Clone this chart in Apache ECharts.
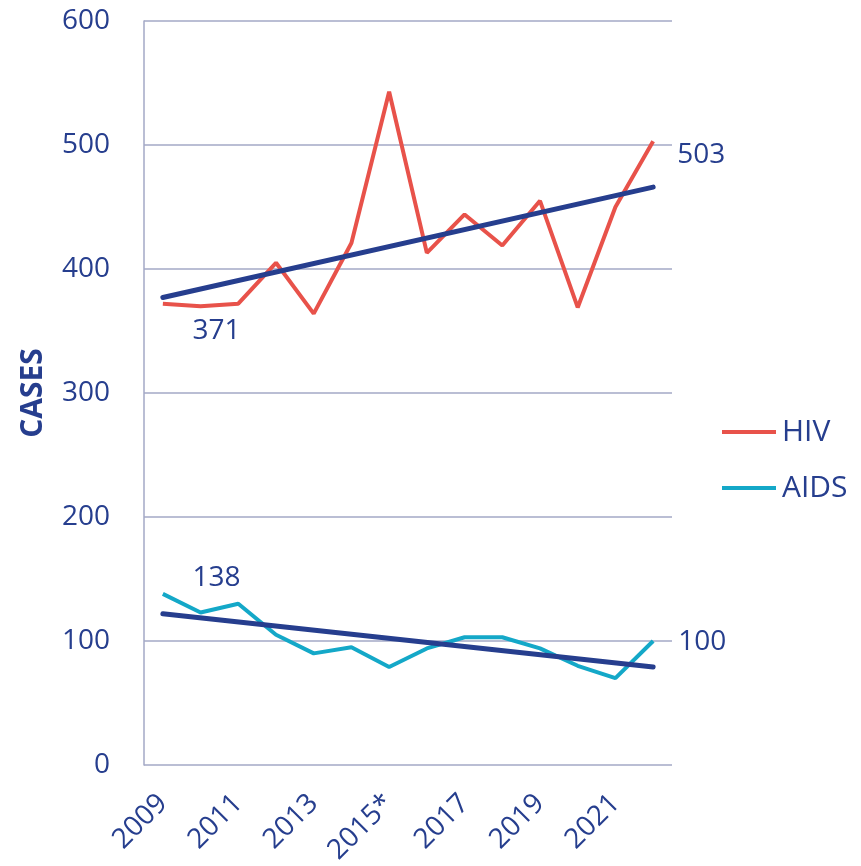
<!DOCTYPE html>
<html>
<head>
<meta charset="utf-8">
<script src="https://cdn.jsdelivr.net/npm/echarts@6/dist/echarts.min.js"></script>
<style>
  html, body { margin: 0; padding: 0; background: #fff; }
  #chart { width: 861px; height: 866px; }
</style>
</head>
<body>
<div id="chart"></div>
<script>
var years = ['2009', '2010', '2011', '2012', '2013', '2014', '2015*', '2016', '2017', '2018', '2019', '2020', '2021', '2022'];
var hiv = [372, 370, 372, 405, 364, 421, 543, 413, 444, 419, 455, 369, 450, 503];
var aids = [138, 123, 130, 105, 90, 95, 79, 94, 103, 103, 94, 80, 70, 100];
// trend line end points
var hivTrend = [['2009', 377], ['2022', 466]];
var aidsTrend = [['2009', 122], ['2022', 79]];

var navy = '#263e8e';
var font = 'Open Sans';

var chart = echarts.init(document.getElementById('chart'));

// invisible point, only the text shows
var labelPoint = {
  symbol: 'circle',
  symbolSize: 1,
  itemStyle: { color: 'rgba(0,0,0,0)' },
  label: { show: true, fontSize: 28, color: navy, fontFamily: font, formatter: '{b}' }
};

var option = {
  backgroundColor: '#ffffff',
  textStyle: { fontFamily: font },
  grid: { left: 144, right: 189, top: 21, bottom: 101, outerBoundsMode: 'none' },
  legend: {
    orient: 'vertical',
    left: 717,
    top: 412,
    itemWidth: 54,
    itemHeight: 4,
    itemGap: 26,
    icon: 'rect',
    textStyle: { fontSize: 30, color: navy, fontFamily: font, padding: [0, 0, 0, 1] },
    data: ['HIV', 'AIDS']
  },
  xAxis: {
    type: 'category',
    data: years,
    boundaryGap: true,
    axisLine: { show: false },
    axisTick: { show: false },
    axisLabel: {
      interval: 1,
      rotate: 45,
      fontSize: 28,
      color: navy,
      margin: 34
    }
  },
  yAxis: {
    type: 'value',
    min: 0,
    max: 600,
    interval: 100,
    name: 'CASES',
    nameLocation: 'middle',
    nameGap: 96,
    nameTextStyle: { fontSize: 30, fontWeight: 'bold', color: navy },
    axisLine: { show: true, lineStyle: { color: '#a3a8c6', width: 1.5 } },
    axisTick: { show: false },
    axisLabel: { fontSize: 28, color: navy, margin: 34 },
    splitLine: { lineStyle: { color: '#a3a8c6', width: 1.5 } }
  },
  series: [
    {
      name: 'HIV',
      type: 'line',
      data: hiv,
      symbol: 'none',
      color: '#e8524a',
      lineStyle: { width: 4, color: '#e8524a' },
      z: 2,
      markPoint: Object.assign({}, labelPoint, {
        data: [
          { name: '371', coord: ['2010', hiv[1]], label: { offset: [16, 25] } },
          { name: '503', coord: ['2022', hiv[13]], label: { offset: [48, 14] } }
        ]
      })
    },
    {
      name: 'AIDS',
      type: 'line',
      data: aids,
      symbol: 'none',
      color: '#14a8c8',
      lineStyle: { width: 4, color: '#14a8c8' },
      z: 2,
      markPoint: Object.assign({}, labelPoint, {
        data: [
          { name: '138', coord: ['2010', aids[1]], label: { offset: [16, -34] } },
          { name: '100', coord: ['2022', aids[13]], label: { offset: [49, 1] } }
        ]
      })
    },
    {
      name: 'HIV trend',
      type: 'line',
      data: hivTrend,
      symbol: 'none',
      lineStyle: { width: 5, color: navy, cap: 'round' },
      z: 3
    },
    {
      name: 'AIDS trend',
      type: 'line',
      data: aidsTrend,
      symbol: 'none',
      lineStyle: { width: 5, color: navy, cap: 'round' },
      z: 3
    }
  ]
};

chart.setOption(option);
</script>
</body>
</html>
